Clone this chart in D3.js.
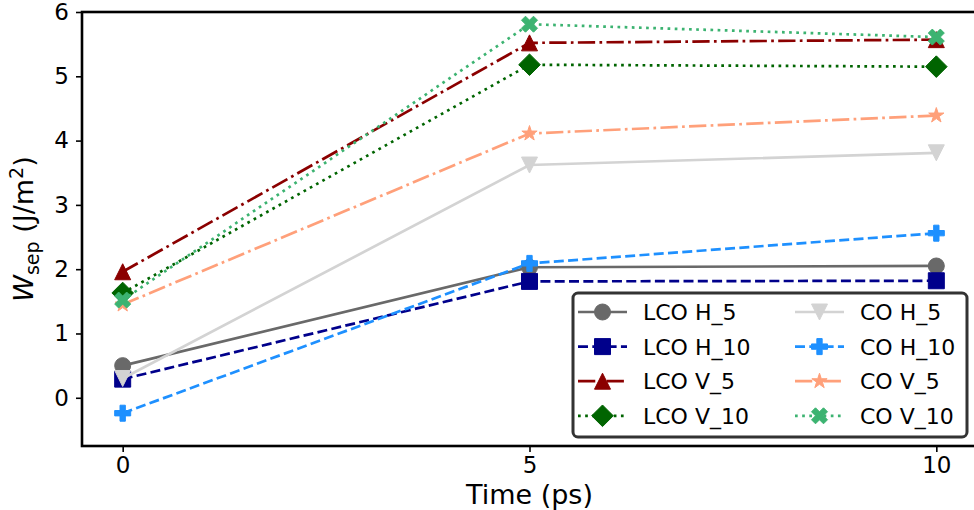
<!DOCTYPE html>
<html lang="en">
<head>
<meta charset="utf-8">
<title>W_sep vs time</title>
<script src="https://cdn.jsdelivr.net/npm/d3@7"></script>
<style>
    body { margin: 0; background: #fff; }
    svg { display: block; font-family: "DejaVu Sans", sans-serif; }
    .axis path { display: none; }
    .axis line { stroke: #000; stroke-width: 1.6; }
    .axis text { font-family: "DejaVu Sans", sans-serif; font-size: 23px; fill: #000; }
</style>
</head>
<body>
<div id="chart"></div>
<script>
// data
var times = [0, 5, 10];
var xTicks = [0, 5, 10];
var yTicks = [0, 1, 2, 3, 4, 5, 6];
var names = ["LCO H_5", "LCO H_10", "LCO V_5", "LCO V_10", "CO H_5", "CO H_10", "CO V_5", "CO V_10"];
var lcoH5  = [0.50, 2.03, 2.05];
var lcoH10 = [0.29, 1.81, 1.82];
var lcoV5  = [1.96, 5.52, 5.57];
var lcoV10 = [1.63, 5.18, 5.15];
var coH5   = [0.30, 3.62, 3.81];
var coH10  = [-0.24, 2.09, 2.56];
var coV5   = [1.45, 4.11, 4.39];
var coV10  = [1.52, 5.81, 5.61];

var values = [lcoH5, lcoH10, lcoV5, lcoV10, coH5, coH10, coV5, coV10];
var colors = ["dimgray", "darkblue", "darkred", "darkgreen", "lightgray", "dodgerblue", "lightsalmon", "mediumseagreen"];
var styles = ["solid", "dashed", "dashdot", "dotted", "solid", "dashed", "dashdot", "dotted"];
var markers = ["o", "s", "^", "D", "v", "P", "*", "X"];

var w = 974, h = 510;
var mLeft = 82, mRight = 977, mTop = 12, mBottom = 446;
var lw = 2.7, ms = 16;

var dashes = {
    solid: null,
    dashed: [3.7 * lw, 1.6 * lw].join(","),
    dashdot: [6.4 * lw, 1.6 * lw, 1 * lw, 1.6 * lw].join(","),
    dotted: [1 * lw, 1.65 * lw].join(",")
};

// marker outlines, size s = full width in px
function markerPath(m, s) {
    var r = s / 2;
    function poly(pts) { return "M" + pts.map(function(p){ return p[0].toFixed(2) + "," + p[1].toFixed(2); }).join("L") + "Z"; }
    if (m === "o") return "M" + r + ",0A" + r + "," + r + " 0 1,1 " + (-r) + ",0A" + r + "," + r + " 0 1,1 " + r + ",0Z";
    if (m === "s") return poly([[-r,-r],[r,-r],[r,r],[-r,r]]);
    if (m === "^") return poly([[0,-r],[r,r],[-r,r]]);
    if (m === "v") return poly([[0,r],[r,-r],[-r,-r]]);
    if (m === "D") { var d = r * 1.35; return poly([[0,-d],[d,0],[0,d],[-d,0]]); }
    if (m === "P") {
        var a = s / 6;
        return poly([[-a,-3*a],[a,-3*a],[a,-a],[3*a,-a],[3*a,a],[a,a],[a,3*a],[-a,3*a],[-a,a],[-3*a,a],[-3*a,-a],[-a,-a]]);
    }
    if (m === "X") {
        var pts = [[0.25,0],[0.5,0.25],[0.75,0],[1,0.25],[0.75,0.5],[1,0.75],[0.75,1],[0.5,0.75],[0.25,1],[0,0.75],[0.25,0.5],[0,0.25]];
        return poly(pts.map(function(p){ return [(p[0]-0.5)*s, (p[1]-0.5)*s]; }));
    }
    if (m === "*") {
        var star = [];
        for (var i = 0; i < 10; i++) {
            var rr = i % 2 === 0 ? r : r * 0.381966;
            var ang = -Math.PI / 2 + i * Math.PI / 5;
            star.push([rr * Math.cos(ang), rr * Math.sin(ang)]);
        }
        return poly(star);
    }
}

var svg = d3.select("#chart").append("svg")
    .attr("width", w)
    .attr("height", h);

var xScale = d3.scaleLinear().domain([-0.5, 10.5]).range([mLeft, mRight]);
var yScale = d3.scaleLinear().domain([-0.75, 6]).range([mBottom, mTop]);

var line = d3.line()
    .x(function(d, i){ return xScale(times[i]); })
    .y(function(d){ return yScale(d); });

// series
values.forEach(function(vals, k) {
    var g = svg.append("g");
    g.append("path")
        .attr("d", line(vals))
        .attr("fill", "none")
        .attr("stroke", colors[k])
        .attr("stroke-width", lw)
        .attr("stroke-dasharray", dashes[styles[k]]);
    g.selectAll("path.mk")
        .data(vals)
        .enter()
        .append("path")
        .attr("class", "mk")
        .attr("d", markerPath(markers[k], ms))
        .attr("transform", function(d, i){ return "translate(" + xScale(times[i]) + "," + yScale(d) + ")"; })
        .attr("fill", colors[k])
        .attr("stroke", colors[k])
        .attr("stroke-width", 1);
});

// frame
svg.append("rect")
    .attr("x", mLeft).attr("y", mTop)
    .attr("width", mRight - mLeft).attr("height", mBottom - mTop)
    .attr("fill", "none").attr("stroke", "#000").attr("stroke-width", 2.6);

// axes
svg.append("g")
    .attr("class", "axis")
    .attr("transform", "translate(0," + mBottom + ")")
    .call(d3.axisBottom(xScale).tickValues(xTicks).tickFormat(d3.format("d")).tickSize(6).tickPadding(5));

svg.append("g")
    .attr("class", "axis")
    .attr("transform", "translate(" + mLeft + ",0)")
    .call(d3.axisLeft(yScale).tickValues(yTicks).tickFormat(d3.format("d")).tickSize(6).tickPadding(7));

svg.append("text")
    .attr("x", (mLeft + mRight) / 2)
    .attr("y", 504)
    .attr("text-anchor", "middle")
    .attr("font-size", 27)
    .text("Time (ps)");

var yl = svg.append("text")
    .attr("transform", "translate(33," + ((mTop + mBottom) / 2) + ") rotate(-90)")
    .attr("text-anchor", "middle")
    .attr("font-size", 27);
yl.append("tspan").attr("font-style", "italic").text("W");
yl.append("tspan").attr("font-size", 19).attr("dy", 6).text("sep");
yl.append("tspan").attr("dy", -6).text("\u00a0(J/m");
yl.append("tspan").attr("font-size", 19).attr("dy", -10).text("2");
yl.append("tspan").attr("dy", 10).text(")");

// legend
var lgX = 573, lgY = 293, lgW = 394, lgH = 144;
svg.append("rect")
    .attr("x", lgX).attr("y", lgY)
    .attr("width", lgW).attr("height", lgH)
    .attr("rx", 5)
    .attr("fill", "#fff").attr("fill-opacity", 0.85)
    .attr("stroke", "#333").attr("stroke-width", 3);

var colX = [578, 795], rowY = 312, rowStep = 34.6, handleLen = 49;
names.forEach(function(name, k) {
    var cx = colX[Math.floor(k / 4)];
    var cy = rowY + (k % 4) * rowStep;
    var g = svg.append("g");
    g.append("line")
        .attr("x1", cx).attr("x2", cx + handleLen)
        .attr("y1", cy).attr("y2", cy)
        .attr("stroke", colors[k])
        .attr("stroke-width", lw)
        .attr("stroke-dasharray", dashes[styles[k]]);
    g.append("path")
        .attr("d", markerPath(markers[k], ms))
        .attr("transform", "translate(" + (cx + handleLen / 2) + "," + cy + ")")
        .attr("fill", colors[k])
        .attr("stroke", colors[k])
        .attr("stroke-width", 1);
    g.append("text")
        .attr("x", cx + handleLen + 16)
        .attr("y", cy)
        .attr("dy", "0.36em")
        .attr("font-size", 22)
        .text(name);
});
</script>
</body>
</html>
